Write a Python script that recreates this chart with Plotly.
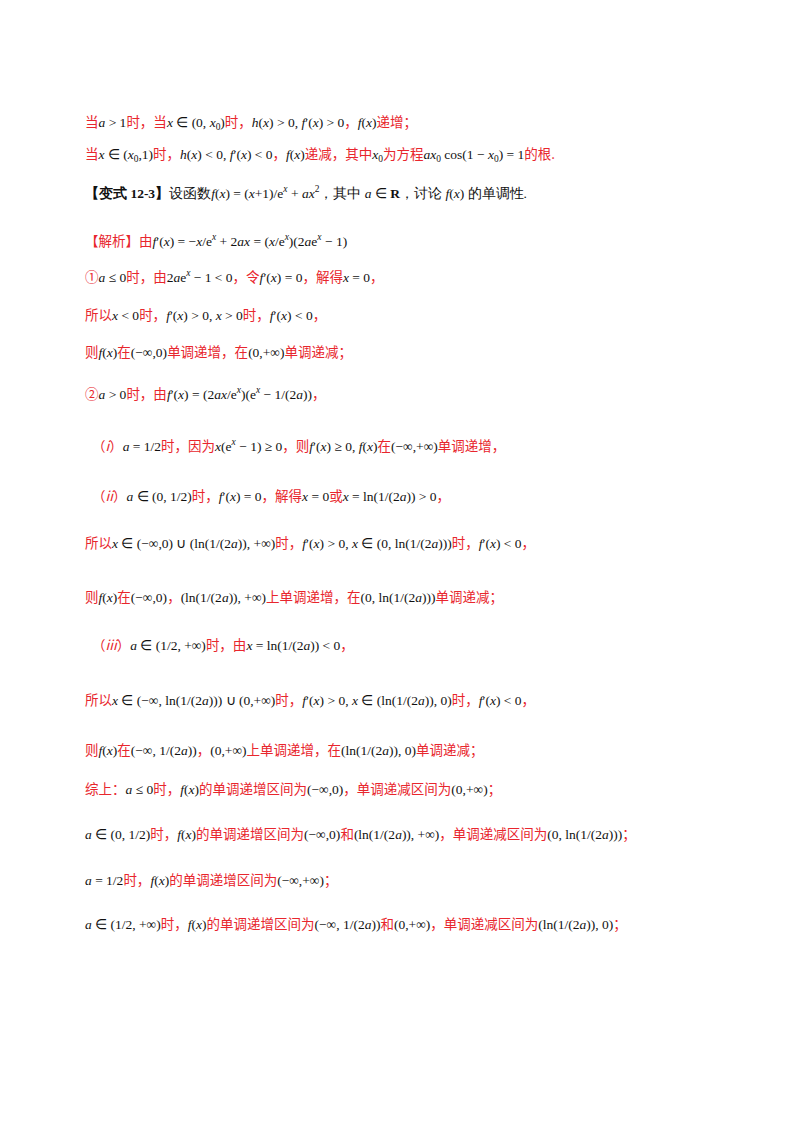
import plotly.graph_objects as go

RED = "#e8262d"
BLK = "#111111"

def r(s):
    return f'<span style="color:{RED}">{s}</span>'
def m(s):
    return f'<span style="color:{BLK};font-family:Liberation Serif">{s}</span>'

line_y = [113, 145, 184, 232, 268, 306, 343, 385, 437, 487, 534, 588, 636, 691, 741, 780, 825, 871, 915]
line_x = [75, 75, 75, 75, 75, 75, 75, 75, 82, 82, 75, 75, 82, 75, 75, 75, 75, 75, 75]
lines = [
    r("当") + m("<i>a</i> &gt; 1") + r("时，当") + m("<i>x</i> ∈ (0, <i>x</i><sub>0</sub>)") + r("时，") + m("<i>h</i>(<i>x</i>) &gt; 0, <i>f</i>′(<i>x</i>) &gt; 0") + r("，") + m("<i>f</i>(<i>x</i>)") + r("递增；"),
    r("当") + m("<i>x</i> ∈ (<i>x</i><sub>0</sub>,1)") + r("时，") + m("<i>h</i>(<i>x</i>) &lt; 0, <i>f</i>′(<i>x</i>) &lt; 0") + r("，") + m("<i>f</i>(<i>x</i>)") + r("递减，其中") + m("<i>x</i><sub>0</sub>") + r("为方程") + m("<i>ax</i><sub>0</sub> cos(1 − <i>x</i><sub>0</sub>) = 1") + r("的根."),
    m("<b>【变式 12-3】</b>设函数") + m("<i>f</i>(<i>x</i>) = (<i>x</i>+1)/e<sup><i>x</i></sup> + <i>ax</i><sup>2</sup>") + m("，其中 <i>a</i> ∈ <b>R</b>，讨论 <i>f</i>(<i>x</i>) 的单调性."),
    r("【解析】由") + m("<i>f</i>′(<i>x</i>) = −<i>x</i>/e<sup><i>x</i></sup> + 2<i>ax</i> = (<i>x</i>/e<sup><i>x</i></sup>)(2<i>a</i>e<sup><i>x</i></sup> − 1)"),
    r("①") + m("<i>a</i> ≤ 0") + r("时，由") + m("2<i>a</i>e<sup><i>x</i></sup> − 1 &lt; 0") + r("，令") + m("<i>f</i>′(<i>x</i>) = 0") + r("，解得") + m("<i>x</i> = 0") + r("，"),
    r("所以") + m("<i>x</i> &lt; 0") + r("时，") + m("<i>f</i>′(<i>x</i>) &gt; 0, <i>x</i> &gt; 0") + r("时，") + m("<i>f</i>′(<i>x</i>) &lt; 0") + r("，"),
    r("则") + m("<i>f</i>(<i>x</i>)") + r("在") + m("(−∞,0)") + r("单调递增，在") + m("(0,+∞)") + r("单调递减；"),
    r("②") + m("<i>a</i> &gt; 0") + r("时，由") + m("<i>f</i>′(<i>x</i>) = (2<i>ax</i>/e<sup><i>x</i></sup>)(e<sup><i>x</i></sup> − 1/(2<i>a</i>))") + r("，"),
    r("（<i>i</i>）") + m("<i>a</i> = 1/2") + r("时，因为") + m("<i>x</i>(e<sup><i>x</i></sup> − 1) ≥ 0") + r("，则") + m("<i>f</i>′(<i>x</i>) ≥ 0, <i>f</i>(<i>x</i>)") + r("在") + m("(−∞,+∞)") + r("单调递增，"),
    r("（<i>ii</i>）") + m("<i>a</i> ∈ (0, 1/2)") + r("时，") + m("<i>f</i>′(<i>x</i>) = 0") + r("，解得") + m("<i>x</i> = 0") + r("或") + m("<i>x</i> = ln(1/(2<i>a</i>)) &gt; 0") + r("，"),
    r("所以") + m("<i>x</i> ∈ (−∞,0) ∪ (ln(1/(2<i>a</i>)), +∞)") + r("时，") + m("<i>f</i>′(<i>x</i>) &gt; 0, <i>x</i> ∈ (0, ln(1/(2<i>a</i>)))") + r("时，") + m("<i>f</i>′(<i>x</i>) &lt; 0") + r("，"),
    r("则") + m("<i>f</i>(<i>x</i>)") + r("在") + m("(−∞,0)") + r("，") + m("(ln(1/(2<i>a</i>)), +∞)") + r("上单调递增，在") + m("(0, ln(1/(2<i>a</i>)))") + r("单调递减；"),
    r("（<i>iii</i>）") + m("<i>a</i> ∈ (1/2, +∞)") + r("时，由") + m("<i>x</i> = ln(1/(2<i>a</i>)) &lt; 0") + r("，"),
    r("所以") + m("<i>x</i> ∈ (−∞, ln(1/(2<i>a</i>))) ∪ (0,+∞)") + r("时，") + m("<i>f</i>′(<i>x</i>) &gt; 0, <i>x</i> ∈ (ln(1/(2<i>a</i>)), 0)") + r("时，") + m("<i>f</i>′(<i>x</i>) &lt; 0") + r("，"),
    r("则") + m("<i>f</i>(<i>x</i>)") + r("在") + m("(−∞, 1/(2<i>a</i>))") + r("，") + m("(0,+∞)") + r("上单调递增，在") + m("(ln(1/(2<i>a</i>)), 0)") + r("单调递减；"),
    r("综上：") + m("<i>a</i> ≤ 0") + r("时，") + m("<i>f</i>(<i>x</i>)") + r("的单调递增区间为") + m("(−∞,0)") + r("，单调递减区间为") + m("(0,+∞)") + r("；"),
    m("<i>a</i> ∈ (0, 1/2)") + r("时，") + m("<i>f</i>(<i>x</i>)") + r("的单调递增区间为") + m("(−∞,0)") + r("和") + m("(ln(1/(2<i>a</i>)), +∞)") + r("，单调递减区间为") + m("(0, ln(1/(2<i>a</i>)))") + r("；"),
    m("<i>a</i> = 1/2") + r("时，") + m("<i>f</i>(<i>x</i>)") + r("的单调递增区间为") + m("(−∞,+∞)") + r("；"),
    m("<i>a</i> ∈ (1/2, +∞)") + r("时，") + m("<i>f</i>(<i>x</i>)") + r("的单调递增区间为") + m("(−∞, 1/(2<i>a</i>))") + r("和") + m("(0,+∞)") + r("，单调递减区间为") + m("(ln(1/(2<i>a</i>)), 0)") + r("；"),
]

fig = go.Figure()
for x, y, t in zip(line_x, line_y, lines):
    fig.add_annotation(x=x, y=y, text=t, showarrow=False, xanchor="left", yanchor="middle",
                       xref="x", yref="y", font=dict(size=13.5, color=BLK, family="Noto Sans CJK SC"))
fig.update_xaxes(range=[0, 800], visible=False)
fig.update_yaxes(range=[1132, 0], visible=False)
fig.update_layout(width=800, height=1132, margin=dict(l=0, r=0, t=0, b=0),
                  plot_bgcolor="white", paper_bgcolor="white", showlegend=False)
fig.write_html("out.html")
